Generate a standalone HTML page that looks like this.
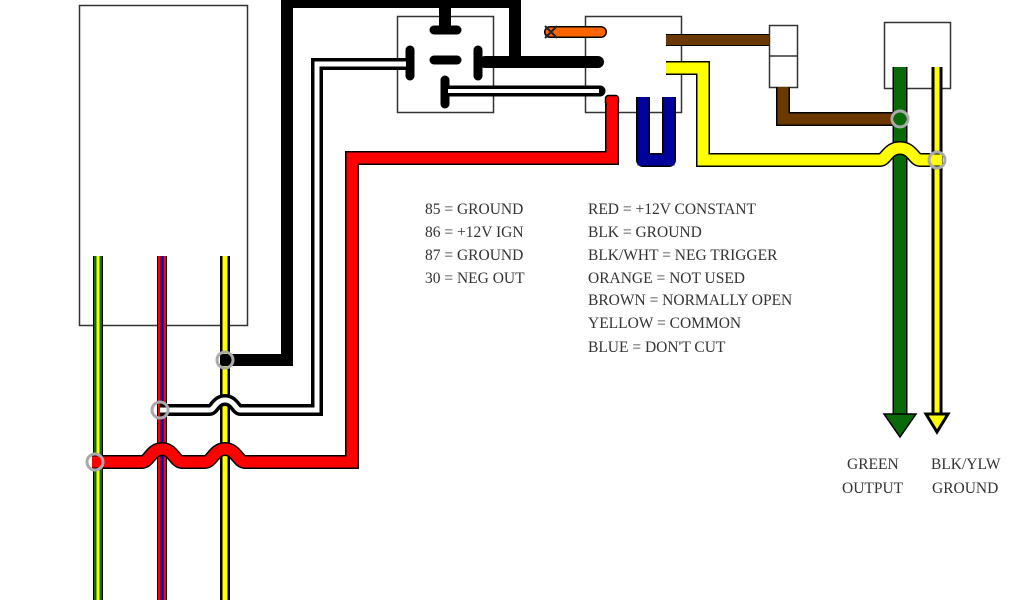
<!DOCTYPE html>
<html><head><style>body{margin:0;background:#fff}svg{display:block}text{font-family:"Liberation Serif",serif;font-size:15.5px;fill:#333}</style></head>
<body>
<svg width="1024" height="600" viewBox="0 0 1024 600" xmlns="http://www.w3.org/2000/svg" fill="none" stroke-linejoin="miter">
<rect x="79.5" y="5.5" width="168" height="320" stroke="#333" stroke-width="1.5" fill="#fff"/>
<rect x="397.5" y="16.5" width="96" height="96" stroke="#333" stroke-width="1.5"/>
<rect x="585.5" y="16.5" width="96" height="96" stroke="#333" stroke-width="1.5"/>
<rect x="884.5" y="22.5" width="66" height="66" stroke="#333" stroke-width="1.5"/>

<line x1="98" y1="256" x2="98" y2="600" stroke="#000" stroke-width="10"/>
<line x1="98" y1="256" x2="98" y2="600" stroke="#0a6a0a" stroke-width="8"/>
<line x1="98" y1="256" x2="98" y2="600" stroke="#ff0" stroke-width="3"/>
<line x1="162" y1="256" x2="162" y2="600" stroke="#000" stroke-width="10"/>
<line x1="162" y1="256" x2="162" y2="600" stroke="#f00" stroke-width="8"/>
<line x1="162" y1="256" x2="162" y2="600" stroke="#00a" stroke-width="3"/>
<line x1="225" y1="256" x2="225" y2="600" stroke="#000" stroke-width="10"/>
<line x1="225" y1="256" x2="225" y2="600" stroke="#ff0" stroke-width="5"/>

<path d="M222 360 H287 V2 H515 V62" stroke="#000" stroke-width="12"/>
<path d="M445 0 V30" stroke="#000" stroke-width="12"/>
<path d="M485 62 H598" stroke="#000" stroke-width="12" stroke-linecap="round"/>
<g stroke="#000" stroke-width="9" stroke-linecap="round">
<line x1="434" y1="30" x2="457" y2="30"/>
<line x1="434" y1="60" x2="457" y2="60"/>
<line x1="410" y1="50" x2="410" y2="76"/>
<line x1="478" y1="50" x2="478" y2="76"/>
<line x1="445" y1="80" x2="445" y2="104"/>
</g>
<path d="M406 64 H317 V410 H240 C236 410 234 400 225 400 C216 400 214 410 210 410 H160" stroke="#000" stroke-width="12"/>
<path d="M406 64 H317 V410 H240 C236 410 234 400 225 400 C216 400 214 410 210 410 H160" stroke="#fff" stroke-width="5"/>
<path d="M448 91 H600" stroke="#000" stroke-width="11" stroke-linecap="round"/>
<path d="M448 91 H599" stroke="#fff" stroke-width="4"/>
<path d="M612 102 V158 H352 V462 H245 C238 462 236 449 225 449 C214 449 212 462 205 462 H182 C175 462 173 449 162 449 C151 449 149 462 142 462 H92" stroke="#000" stroke-width="14"/>
<path d="M612 102 V158 H352 V462 H245 C238 462 236 449 225 449 C214 449 212 462 205 462 H182 C175 462 173 449 162 449 C151 449 149 462 142 462 H92" stroke="#f00" stroke-width="11"/>
<rect x="605.5" y="95.5" width="13" height="10" rx="3" fill="#f00" stroke="#000" stroke-width="1.5"/>
<rect x="607" y="100" width="10" height="8" fill="#f00"/>
<path d="M643 97 V160 H669 V97" stroke="#000" stroke-width="14" stroke-linejoin="round"/>
<path d="M643 97 V160 H669 V97" stroke="#00009a" stroke-width="11"/>
<path d="M550 32 H601" stroke="#000" stroke-width="12" stroke-linecap="round"/>
<path d="M550 32 H601" stroke="#f60" stroke-width="9" stroke-linecap="round"/>
<path d="M545 26 L557 38 M557 26 L545 38" stroke="#222" stroke-width="2"/>
<path d="M666 40 H770" stroke="#000" stroke-width="12"/>
<path d="M666 40 H770" stroke="#6b3800" stroke-width="10"/>
<rect x="769.5" y="25.5" width="28" height="62" stroke="#333" stroke-width="1.5" fill="#fff"/>
<line x1="770" y1="56" x2="797" y2="56" stroke="#333" stroke-width="1.5"/>
<path d="M783 87 V119 H905" stroke="#000" stroke-width="14"/>
<path d="M783 87 V119 H905" stroke="#6b3800" stroke-width="11"/>
<line x1="900" y1="67" x2="900" y2="418" stroke="#000" stroke-width="15"/>
<line x1="900" y1="67" x2="900" y2="418" stroke="#0a6a0a" stroke-width="12"/>
<polygon points="884,414 916,414 900,437" fill="#0a6a0a" stroke="#000" stroke-width="1.5"/>
<line x1="937" y1="67" x2="937" y2="418" stroke="#000" stroke-width="11"/>
<line x1="937" y1="67" x2="937" y2="418" stroke="#ff0" stroke-width="5"/>
<polygon points="926,414 948,414 937,432" fill="#ff0" stroke="#000" stroke-width="3"/>
<path d="M666 68 H703 V160 H880 C886 160 888 148 900 148 C912 148 914 160 920 160 H942" stroke="#000" stroke-width="14"/>
<path d="M666 68 H703 V160 H880 C886 160 888 148 900 148 C912 148 914 160 920 160 H942" stroke="#ff0" stroke-width="11"/>
<g fill="none" stroke="#aaa" stroke-width="3">
<circle cx="225" cy="360" r="8"/>
<circle cx="160" cy="410" r="8"/>
<circle cx="95" cy="462" r="8"/>
<circle cx="900" cy="119" r="8"/>
<circle cx="937" cy="160" r="8"/>
</g>
<text x="425" y="214">85 = GROUND</text>
<text x="425" y="237">86 = +12V IGN</text>
<text x="425" y="260">87 = GROUND</text>
<text x="425" y="283">30 = NEG OUT</text>
<text x="588" y="214">RED = +12V CONSTANT</text>
<text x="588" y="237">BLK = GROUND</text>
<text x="588" y="260">BLK/WHT = NEG TRIGGER</text>
<text x="588" y="283">ORANGE = NOT USED</text>
<text x="588" y="305">BROWN = NORMALLY OPEN</text>
<text x="588" y="328">YELLOW = COMMON</text>
<text x="588" y="352">BLUE = DON'T CUT</text>
<text x="847" y="469">GREEN</text>
<text x="842" y="493">OUTPUT</text>
<text x="931" y="469">BLK/YLW</text>
<text x="932" y="493">GROUND</text>
</svg>
</body></html>
